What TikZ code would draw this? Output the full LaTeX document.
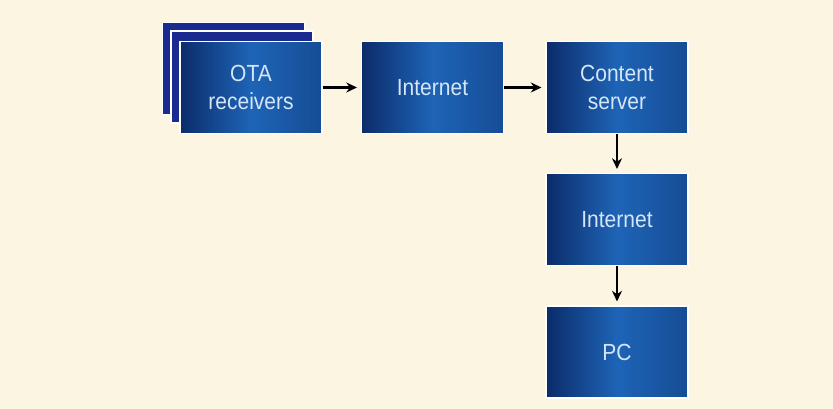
\documentclass[tikz,border=0pt]{standalone}
\usepackage{fontspec}
\setmainfont{Liberation Sans}[FakeStretch=0.9]
\usetikzlibrary{arrows.meta}
\definecolor{bgcream}{HTML}{FBF5E1}
\definecolor{boxdark}{HTML}{0B2C6A}
\definecolor{boxmid}{HTML}{1E64B6}
\definecolor{boxlight}{HTML}{164C95}
\definecolor{backblue}{HTML}{1B2A8E}
\definecolor{txtblue}{HTML}{D4E6F8}
\tikzset{
  bluebox/.style={minimum width=106.5pt, minimum height=69pt, inner sep=0pt,
    left color=boxdark, right color=boxlight, middle color=boxmid,
    draw=white, line width=0.8pt, text=txtblue, align=center,
    font=\fontsize{17.5}{20.5}\selectfont},
  backbox/.style={minimum width=106.5pt, minimum height=69pt, inner sep=0pt,
    fill=backblue, draw=white, line width=1.2pt},
  flow/.style={-{Stealth[length=8pt,width=7.5pt]}, line width=1.6pt, black}
}
\begin{document}
\begin{tikzpicture}[x=0.75pt,y=-0.75pt]
\fill[bgcream] (0,0) rectangle (833,409);
\useasboundingbox (0,0) rectangle (833,409);
\node[backbox] (ota3) at (233.5,68.5) {};
\node[backbox] (ota2) at (242,77) {};
\node[bluebox] (ota) at (251,87.5) {OTA\\receivers};
\node[bluebox] (net1) at (432.5,87.5) {Internet};
\node[bluebox] (cs) at (617,87.5) {Content\\server};
\node[bluebox] (net2) at (617,219.5) {Internet};
\node[bluebox] (pc) at (617,352) {PC};
\draw[flow, shorten >=3pt] (ota) -- (net1);
\draw[flow, shorten >=3pt] (net1) -- (cs);
\draw[flow, shorten >=3pt] (cs) -- (net2);
\draw[flow, shorten >=3pt] (net2) -- (pc);
\end{tikzpicture}
\end{document}
